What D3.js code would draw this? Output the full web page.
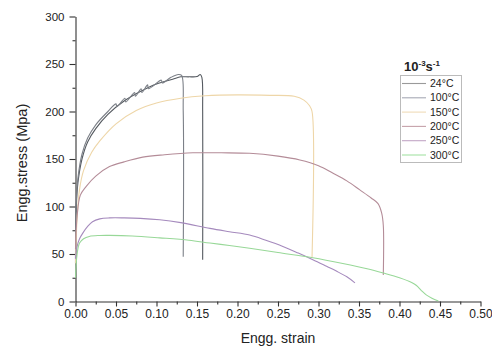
<!DOCTYPE html>
<html>
<head>
<meta charset="utf-8">
<script src="https://cdn.jsdelivr.net/npm/d3@7"></script>
<style>
  body { margin: 0; background: #fff; }
  svg text { font-family: Arial, "Liberation Sans", sans-serif; fill: #222; }
</style>
</head>
<body>
<svg id="chart" width="492" height="347"></svg>
<script>
// tick values
const xTicks = [0, 0.05, 0.10, 0.15, 0.20, 0.25, 0.30, 0.35, 0.40, 0.45, 0.50];
const yTicks = [0, 50, 100, 150, 200, 250, 300];

// strain vs stress (MPa)
const strain24 = [0, 0.001, 0.003, 0.008, 0.015, 0.025, 0.04, 0.06, 0.08, 0.1, 0.12, 0.13, 0.14, 0.15, 0.154, 0.156, 0.157, 0.157];
const stress24 = [40, 100, 125, 150, 168, 182, 197, 211, 221, 229, 234, 236.5, 236.5, 236.8, 239, 236, 200, 44];

const strain100 = [0, 0.001, 0.003, 0.008, 0.015, 0.025, 0.04, 0.05, 0.051, 0.061, 0.062, 0.073, 0.074, 0.081, 0.082, 0.089, 0.09, 0.106, 0.107, 0.118, 0.127, 0.131, 0.133, 0.133];
const stress100 = [45, 105, 130, 155, 172, 186, 200, 208, 205, 214, 210, 220, 216, 224, 220, 228, 224, 233, 230, 236, 239, 238, 200, 47];

const strain150 = [0, 0.002, 0.005, 0.01, 0.02, 0.03, 0.05, 0.075, 0.1, 0.13, 0.16, 0.2, 0.24, 0.27, 0.282, 0.289, 0.292, 0.292];
const stress150 = [40, 88, 118, 138, 157, 169, 187, 201, 209, 214, 216.5, 217.5, 217, 216, 212, 206, 200, 46];

const strain200 = [0, 0.002, 0.006, 0.013, 0.025, 0.042, 0.06, 0.083, 0.11, 0.145, 0.18, 0.215, 0.25, 0.277, 0.3, 0.318, 0.335, 0.351, 0.365, 0.3735, 0.378, 0.38, 0.38];
const stress200 = [55, 90, 112, 121, 132, 142, 147, 152, 154.5, 156.5, 156.5, 156, 153, 149, 143, 135, 127, 117.5, 109, 103, 93, 80, 28];

const strain250 = [0, 0.002, 0.005, 0.009, 0.015, 0.021, 0.03, 0.042, 0.06, 0.08, 0.104, 0.13, 0.166, 0.19, 0.215, 0.235, 0.256, 0.275, 0.293, 0.31, 0.322, 0.335, 0.345];
const stress250 = [45, 58, 66, 72, 79, 84, 87, 88, 88, 87.5, 86, 83, 77, 73.5, 70, 64.5, 58, 51, 44, 37, 32, 26, 19.6];

const strain300 = [0, 0.002, 0.005, 0.01, 0.017, 0.03, 0.042, 0.07, 0.104, 0.14, 0.166, 0.19, 0.215, 0.25, 0.293, 0.33, 0.36, 0.38, 0.4, 0.415, 0.421, 0.427, 0.433, 0.44, 0.448];
const stress300 = [25, 50, 61.5, 66, 68.5, 69.5, 69.6, 69, 67, 64.5, 61.5, 59, 56, 51.5, 46, 40, 34.5, 30, 25, 20, 16.8, 11.5, 7, 3.5, 0.5];

const temps = ["24°C", "100°C", "150°C", "200°C", "250°C", "300°C"];
const lineColors = ["#555a60", "#7c8088", "#eed6a8", "#b48c98", "#a58abd", "#98d898"];
const keyColors = ["#9a9a9a", "#a6a8b4", "#f0dcb8", "#c6a2aa", "#c2a6c6", "#a4e2a4"];

const series = [
    [strain24, stress24], [strain100, stress100], [strain150, stress150],
    [strain200, stress200], [strain250, stress250], [strain300, stress300]
].map((s, i) => ({ name: temps[i], pts: s[0].map((x, j) => [x, s[1][j]]) }));

const svg = d3.select("#chart");
const x = d3.scaleLinear().domain([0, 0.5]).range([75.5, 480.5]);
const y = d3.scaleLinear().domain([0, 300]).range([301.5, 16.5]);

// minor ticks first so the major ones draw over them
svg.append("g")
    .attr("transform", "translate(0,301.5)")
    .call(d3.axisBottom(x).tickValues(d3.range(0.025, 0.5, 0.05)).tickSize(3).tickFormat(""))
    .call(g => g.select(".domain").remove())
    .selectAll("line").attr("stroke", "#333");

svg.append("g")
    .attr("transform", "translate(75.5,0)")
    .call(d3.axisLeft(y).tickValues(d3.range(25, 300, 50)).tickSize(3).tickFormat(""))
    .call(g => g.select(".domain").remove())
    .selectAll("line").attr("stroke", "#333");

const xAxis = svg.append("g")
    .attr("transform", "translate(0,301.5)")
    .call(d3.axisBottom(x).tickValues(xTicks).tickSize(5).tickSizeOuter(0).tickPadding(3).tickFormat(d3.format(".2f")));
xAxis.selectAll("text").style("font-size", "12px").attr("fill", "#222");

const yAxis = svg.append("g")
    .attr("transform", "translate(75.5,0)")
    .call(d3.axisLeft(y).tickValues(yTicks).tickSize(6).tickSizeOuter(0).tickPadding(5));
yAxis.selectAll("text").style("font-size", "11.5px").attr("fill", "#222");

svg.selectAll(".domain, .tick line").attr("stroke", "#333").attr("stroke-width", 1.1);

const line = d3.line()
    .x(d => x(d[0]))
    .y(d => y(d[1]))
    .curve(d3.curveCatmullRom.alpha(0.5));

svg.append("g")
    .selectAll("path")
    .data(series)
    .enter()
    .append("path")
    .attr("d", d => line(d.pts))
    .attr("fill", "none")
    .attr("stroke", (d, i) => lineColors[i])
    .attr("stroke-width", 1.1);

// axis titles
svg.append("text")
    .attr("x", 278)
    .attr("y", 343)
    .attr("text-anchor", "middle")
    .style("font-size", "14px")
    .text("Engg. strain");

svg.append("text")
    .attr("transform", "translate(27,163) rotate(-90)")
    .attr("text-anchor", "middle")
    .style("font-size", "14.5px")
    .text("Engg.stress (Mpa)");

// legend
const legendTitle = svg.append("text")
    .attr("x", 404)
    .attr("y", 71)
    .style("font-size", "13px")
    .style("font-weight", "bold");
legendTitle.append("tspan").text("10");
legendTitle.append("tspan").attr("dy", -5).style("font-size", "8px").text("-3");
legendTitle.append("tspan").attr("dy", 5).text("s");
legendTitle.append("tspan").attr("dy", -5).style("font-size", "8px").text("-1");

svg.append("rect")
    .attr("x", 400.5)
    .attr("y", 75.5)
    .attr("width", 61)
    .attr("height", 87)
    .attr("fill", "#fff")
    .attr("stroke", "#bbb");

const keys = svg.append("g")
    .selectAll("g")
    .data(temps)
    .enter()
    .append("g")
    .attr("transform", (d, i) => "translate(0," + (83.5 + i * 14.3) + ")");

keys.append("line")
    .attr("x1", 402).attr("x2", 426)
    .attr("stroke", (d, i) => keyColors[i])
    .attr("stroke-width", 1.1);

keys.append("text")
    .attr("x", 430)
    .attr("y", 3.5)
    .style("font-size", "10.5px")
    .text(d => d);
</script>
</body>
</html>
